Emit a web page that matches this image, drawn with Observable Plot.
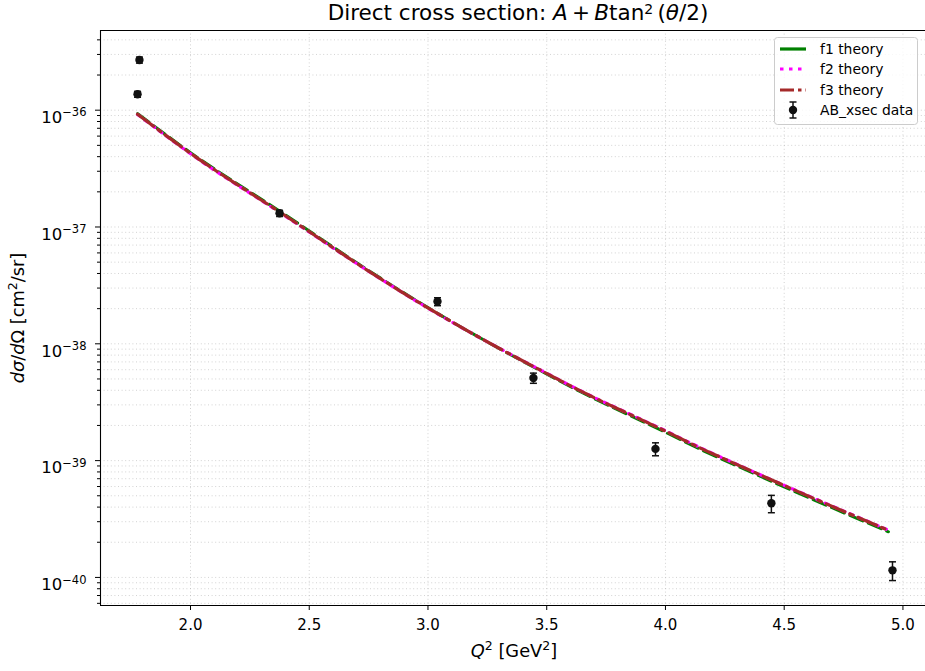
<!DOCTYPE html>
<html>
<head>
<meta charset="utf-8">
<script src="https://cdn.jsdelivr.net/npm/d3@7"></script>
<script src="https://cdn.jsdelivr.net/npm/@observablehq/plot@0.6"></script>
<style>
html, body { margin: 0; padding: 0; background: #fff; overflow: hidden; }
#title { position: relative; height: 25px; font-family: "DejaVu Sans", sans-serif; font-size: 21.5px; color: #000; }
#title .t { position: absolute; left: 518px; top: 3px; transform: translateX(-50%); white-space: nowrap; line-height: 20px; }
#title sup { font-size: 65%; vertical-align: 0.45em; line-height: 0; }
#chart svg { display: block; }
</style>
</head>
<body>
<div id="title"><span class="t">Direct cross section: <i>A</i>&#8201;+&#8201;<i>B</i>tan<sup>2</sup>&#8201;(<i>θ</i>/2)</span></div>
<div id="chart"></div>
<script>
// ---- data ----
const dataQ2   = [1.785, 1.777, 2.375, 3.040, 3.444, 3.958, 4.446, 4.956];
const dataXsec = [2.69e-36, 1.37e-36, 1.31e-37, 2.30e-38, 5.10e-39, 1.26e-39, 4.31e-40, 1.15e-40];
const dataErr  = [1.6e-37, 8e-38, 8e-39, 1.8e-39, 5.1e-40, 1.6e-40, 7.3e-41, 2.1e-41];

const theoryQ2 = [1.777, 2.0, 2.379, 2.8, 2.998, 3.305, 3.44, 3.642, 4.0, 4.147, 4.316, 4.661, 4.939];
const f1Theory = [9.34e-37, 4.33e-37, 1.35e-37, 3.65e-38, 2.05e-38, 9.0e-39, 6.40e-39, 3.89e-39, 1.75e-39, 1.25e-39, 8.73e-40, 4.29e-40, 2.46e-40];
const f2Theory = [9.2e-37, 4.24e-37, 1.32e-37, 3.6e-38, 2.03e-38, 9.05e-39, 6.48e-39, 3.97e-39, 1.8e-39, 1.29e-39, 9.0e-40, 4.43e-40, 2.54e-40];
const f3Theory = [9.24e-37, 4.27e-37, 1.33e-37, 3.61e-38, 2.04e-38, 9.03e-39, 6.46e-39, 3.95e-39, 1.79e-39, 1.28e-39, 8.97e-40, 4.41e-40, 2.53e-40];

const seriesNames = ["f1 theory", "f2 theory", "f3 theory"];
const dataName = "AB_xsec data";

const xTicks = [2.0, 2.5, 3.0, 3.5, 4.0, 4.5, 5.0];
const yMajorTicks = [1e-40, 1e-39, 1e-38, 1e-37, 1e-36];
const yMajorExp = [-40, -39, -38, -37, -36];

// ---- layout / styles ----
const xDomain = [1.621, 5.095];
const yDomain = [5.75e-41, 4.81e-36];
const colors = ["#008000", "#ff00ff", "#a52a2a"];
const plotDashes = ["14,6", "3.5,5.5", "20,5.5,3.5,5.5"];
const legendDashes = [null, "3.5,5.5", "14,4,3.5,4"];
const lw = 3.2;
const labelSize = 17.8;

const yMinorTicks = [];
for (let e = -41; e <= -36; e++) {
  for (let k = 2; k <= 9; k++) {
    const v = k * Math.pow(10, e);
    if (v >= yDomain[0] && v <= yDomain[1]) yMinorTicks.push(v);
  }
}

const points = dataQ2.map((q, i) => ({q, y: dataXsec[i], lo: dataXsec[i] - dataErr[i], hi: dataXsec[i] + dataErr[i]}));
const theory = theoryQ2.map((q, i) => ({q, f1: f1Theory[i], f2: f2Theory[i], f3: f3Theory[i]}));

const capSymbol = {
  draw(context, size) {
    const h = Math.sqrt(size / Math.PI);
    context.moveTo(-h, 0);
    context.lineTo(h, 0);
  }
};

const gridStyle = {stroke: "#b0b0b0", strokeOpacity: 0.7, strokeWidth: 0.8, strokeDasharray: "1,2.6"};

const chart = Plot.plot({
  width: 925,
  height: 646,
  marginLeft: 100,
  marginRight: 0,
  marginTop: 5,
  marginBottom: 66,
  style: {fontFamily: "DejaVu Sans, sans-serif", fontSize: "13.9px", color: "#000", background: "#fff"},
  x: {type: "linear", domain: xDomain},
  y: {type: "log", domain: yDomain},
  marks: [
    Plot.gridY(yMinorTicks, gridStyle),
    Plot.gridY(yMajorTicks, gridStyle),
    Plot.gridX(xTicks, gridStyle),
    Plot.line(theory, {x: "q", y: "f1", stroke: colors[0], strokeWidth: 3, strokeDasharray: plotDashes[0], curve: "monotone-x"}),
    Plot.line(theory, {x: "q", y: "f2", stroke: colors[1], strokeWidth: lw, strokeDasharray: plotDashes[1], curve: "monotone-x"}),
    Plot.line(theory, {x: "q", y: "f3", stroke: colors[2], strokeWidth: lw, strokeDasharray: plotDashes[2], curve: "monotone-x"}),
    Plot.ruleX(points, {x: "q", y1: "lo", y2: "hi", stroke: "#111", strokeWidth: 1.5}),
    Plot.dot(points, {x: "q", y: "hi", symbol: capSymbol, r: 3.5, stroke: "#111", strokeWidth: 1.5, fill: "none"}),
    Plot.dot(points, {x: "q", y: "lo", symbol: capSymbol, r: 3.5, stroke: "#111", strokeWidth: 1.5, fill: "none"}),
    Plot.dot(points, {x: "q", y: "y", r: 4.2, fill: "#111", stroke: "none"}),
    Plot.axisX(xTicks, {tickFormat: d => d.toFixed(1), tickSize: 5, tickPadding: 9, label: null, stroke: "#000", fill: "#000", fontSize: 15}),
    Plot.axisY(yMajorTicks, {tickFormat: d => "10^" + yMajorExp[yMajorTicks.indexOf(d)], tickSize: 5, tickPadding: 9, label: null, stroke: "#000", fill: "#000", fontSize: 16.5}),
    Plot.axisY(yMinorTicks, {tickFormat: () => "", tickSize: 3, label: null, stroke: "#000"}),
    Plot.ruleX([xDomain[0]], {stroke: "#000", strokeWidth: 1.1}),
    Plot.ruleY([yDomain[0], yDomain[1]], {stroke: "#000", strokeWidth: 1.1})
  ]
});
document.getElementById("chart").appendChild(chart);

const svg = d3.select(chart);

// superscript exponents on y tick labels
svg.selectAll("g[aria-label='y-axis tick label'] text").each(function () {
  const t = d3.select(this);
  const s = t.text();
  if (!s.includes("^")) return;
  const exp = s.split("^")[1].replace("-", "\u2212");
  t.text("10").attr("dy", "0.45em");
  t.append("tspan").attr("dy", -6.5).attr("font-size", "11.5px").text(exp);
});

// axis labels
const xl = svg.append("text")
  .attr("x", 514).attr("y", 632)
  .attr("text-anchor", "middle")
  .attr("font-size", labelSize + "px").attr("fill", "#000");
xl.append("tspan").attr("font-style", "italic").text("Q");
xl.append("tspan").attr("dy", -7).attr("font-size", "12.5px").text("2");
xl.append("tspan").attr("dy", 7).text(" [GeV");
xl.append("tspan").attr("dy", -7).attr("font-size", "12.5px").text("2");
xl.append("tspan").attr("dy", 7).text("]");

const yl = svg.append("text")
  .attr("transform", "translate(24,293) rotate(-90)")
  .attr("text-anchor", "middle")
  .attr("font-size", labelSize + "px").attr("fill", "#000");
yl.append("tspan").attr("font-style", "italic").text("d\u03c3");
yl.append("tspan").text("/");
yl.append("tspan").attr("font-style", "italic").text("d");
yl.append("tspan").text("\u03a9 [cm");
yl.append("tspan").attr("dy", -7).attr("font-size", "12.5px").text("2");
yl.append("tspan").attr("dy", 7).text("/sr]");

// legend
const lg = svg.append("g").attr("font-size", "13.9px").attr("fill", "#000").attr("text-anchor", "start");
lg.append("rect").attr("x", 774.5).attr("y", 12.5).attr("width", 143).attr("height", 87).attr("rx", 3)
  .attr("fill", "#fff").attr("fill-opacity", 0.8).attr("stroke", "#cccccc").attr("stroke-width", 1);
const rowY = [24, 44, 65, 85];
seriesNames.forEach((name, i) => {
  const ln = lg.append("line").attr("x1", 780).attr("x2", 806).attr("y1", rowY[i]).attr("y2", rowY[i])
    .attr("stroke", colors[i]).attr("stroke-width", lw);
  if (legendDashes[i]) ln.attr("stroke-dasharray", legendDashes[i]);
  lg.append("text").attr("x", 820).attr("y", rowY[i]).attr("dy", "0.36em").attr("text-anchor", "start").text(name);
});
const ey = rowY[3];
lg.append("line").attr("x1", 793).attr("x2", 793).attr("y1", ey - 8).attr("y2", ey + 8).attr("stroke", "#111").attr("stroke-width", 1.5);
lg.append("line").attr("x1", 789.5).attr("x2", 796.5).attr("y1", ey - 8).attr("y2", ey - 8).attr("stroke", "#111").attr("stroke-width", 1.5);
lg.append("line").attr("x1", 789.5).attr("x2", 796.5).attr("y1", ey + 8).attr("y2", ey + 8).attr("stroke", "#111").attr("stroke-width", 1.5);
lg.append("circle").attr("cx", 793).attr("cy", ey).attr("r", 4.2).attr("fill", "#111");
lg.append("text").attr("x", 820).attr("y", ey).attr("dy", "0.36em").attr("text-anchor", "start").text(dataName);
</script>
</body>
</html>
